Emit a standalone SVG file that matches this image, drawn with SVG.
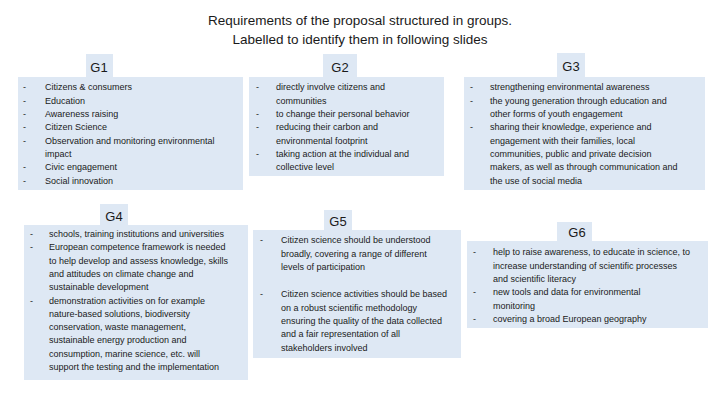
<svg xmlns="http://www.w3.org/2000/svg" width="720" height="405" viewBox="0 0 720 405">
<style>
.b{fill:#dee8f4}
.t{font-family:"Liberation Sans",Arial,sans-serif;font-size:9px;fill:#1a1a1a}
.h{font-family:"Liberation Sans",Arial,sans-serif;font-size:13px;fill:#1a1a1a;text-anchor:middle}
.ti{font-family:"Liberation Sans",Arial,sans-serif;font-size:13.5px;fill:#1a1a1a;text-anchor:middle}
</style>
<rect width="720" height="405" fill="#fff"/>
<text class="ti" x="360" y="25">Requirements of the proposal structured in groups.</text>
<text class="ti" x="360" y="44">Labelled to identify them in following slides</text>
<g id="G1">
<rect class="b" x="86" y="54" width="27" height="24"/>
<rect class="b" x="18" y="77" width="225" height="113"/>
<text class="h" x="99" y="72">G1</text>
<g class="t">
<text x="23" y="90">-</text><text x="45" y="90">Citizens &amp; consumers</text>
<text x="23" y="103.5">-</text><text x="45" y="103.5">Education</text>
<text x="23" y="117">-</text><text x="45" y="117">Awareness raising</text>
<text x="23" y="130">-</text><text x="45" y="130">Citizen Science</text>
<text x="23" y="143.5">-</text><text x="45" y="143.5">Observation and monitoring environmental</text>
<text x="45" y="157">impact</text>
<text x="23" y="170">-</text><text x="45" y="170">Civic engagement</text>
<text x="23" y="183.5">-</text><text x="45" y="183.5">Social innovation</text>
</g></g>
<g id="G2">
<rect class="b" x="323" y="54" width="34" height="24"/>
<rect class="b" x="249" y="77" width="195" height="99"/>
<text class="h" x="340" y="72">G2</text>
<g class="t">
<text x="256" y="90">-</text><text x="276" y="90">directly involve citizens and</text>
<text x="276" y="103.5">communities</text>
<text x="256" y="117">-</text><text x="276" y="117">to change their personal behavior</text>
<text x="256" y="130">-</text><text x="276" y="130">reducing their carbon and</text>
<text x="276" y="143.5">environmental footprint</text>
<text x="256" y="157">-</text><text x="276" y="157">taking action at the individual and</text>
<text x="276" y="170">collective level</text>
</g></g>
<g id="G3">
<rect class="b" x="557" y="53" width="28" height="24"/>
<rect class="b" x="464" y="77" width="241" height="113"/>
<text class="h" x="571" y="71">G3</text>
<g class="t">
<text x="470" y="90">-</text><text x="490" y="90">strengthening environmental awareness</text>
<text x="470" y="103.5">-</text><text x="490" y="103.5">the young generation through education and</text>
<text x="490" y="117">other forms of youth engagement</text>
<text x="470" y="130">-</text><text x="490" y="130">sharing their knowledge, experience and</text>
<text x="490" y="143.5">engagement with their families, local</text>
<text x="490" y="157">communities, public and private decision</text>
<text x="490" y="170">makers, as well as through communication and</text>
<text x="490" y="183.5">the use of social media</text>
</g></g>
<g id="G4">
<rect class="b" x="100" y="204" width="28" height="22"/>
<rect class="b" x="24" y="225" width="224" height="155"/>
<text class="h" x="114" y="221">G4</text>
<g class="t">
<text x="30" y="237">-</text><text x="49" y="237">schools, training institutions and universities</text>
<text x="30" y="250.3">-</text><text x="49" y="250.3">European competence framework is needed</text>
<text x="49" y="263.6">to help develop and assess knowledge, skills</text>
<text x="49" y="276.9">and attitudes on climate change and</text>
<text x="49" y="290.2">sustainable development</text>
<text x="30" y="303.5">-</text><text x="49" y="303.5">demonstration activities on for example</text>
<text x="49" y="316.8">nature-based solutions, biodiversity</text>
<text x="49" y="330.1">conservation, waste management,</text>
<text x="49" y="343.4">sustainable energy production and</text>
<text x="49" y="356.7">consumption, marine science, etc. will</text>
<text x="49" y="370">support the testing and the implementation</text>
</g></g>
<g id="G5">
<rect class="b" x="324" y="210" width="28" height="21"/>
<rect class="b" x="253" y="230" width="208" height="128"/>
<text class="h" x="338" y="226">G5</text>
<g class="t">
<text x="260" y="243">-</text><text x="281" y="243">Citizen science should be understood</text>
<text x="281" y="256.5">broadly, covering a range of different</text>
<text x="281" y="270">levels of participation</text>
<text x="260" y="297">-</text><text x="281" y="297">Citizen science activities should be based</text>
<text x="281" y="310.5">on a robust scientific methodology</text>
<text x="281" y="324">ensuring the quality of the data collected</text>
<text x="281" y="337">and a fair representation of all</text>
<text x="281" y="350.5">stakeholders involved</text>
</g></g>
<g id="G6">
<rect class="b" x="557" y="222" width="35" height="20"/>
<rect class="b" x="467" y="241" width="241" height="87"/>
<text class="h" x="577" y="237">G6</text>
<g class="t">
<text x="473" y="255">-</text><text x="493" y="255">help to raise awareness, to educate in science, to</text>
<text x="493" y="268.5">increase understanding of scientific processes</text>
<text x="493" y="282">and scientific literacy</text>
<text x="473" y="295">-</text><text x="493" y="295">new tools and data for environmental</text>
<text x="493" y="308.5">monitoring</text>
<text x="473" y="322">-</text><text x="493" y="322">covering a broad European geography</text>
</g></g>
<g id="connectors"/>
</svg>
